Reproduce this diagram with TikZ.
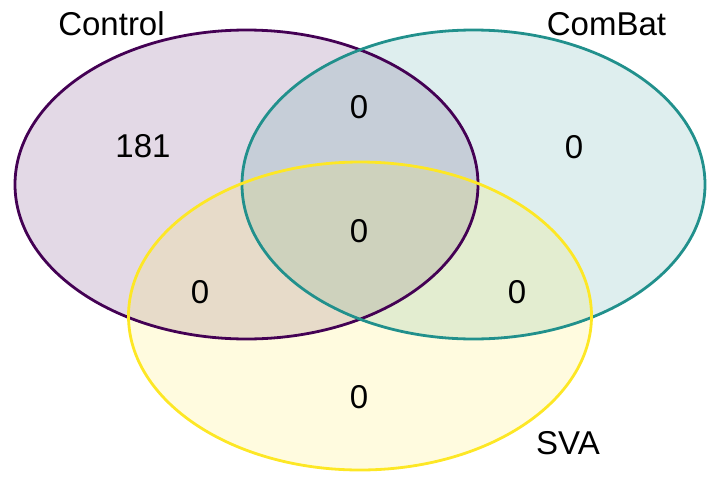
\documentclass[tikz,border=0pt]{standalone}
\usepackage{fontspec}
\setmainfont{Liberation Sans}
\definecolor{ctrlcol}{HTML}{440154}
\definecolor{combatcol}{HTML}{21908C}
\definecolor{svacol}{HTML}{FDE725}
\tikzset{
    vennfill/.style={fill opacity=0.15},
    vennline/.style={line width=2.8pt},
    count/.style={font=\fontsize{33}{40}\selectfont, inner sep=0pt}
}
\begin{document}
\begin{tikzpicture}[x=1pt, y=-1pt]
    \useasboundingbox (0,0) rectangle (720,480);
    % fills first, outlines on top
    \fill[vennfill, ctrlcol] (246.5,184.5) ellipse (231.5 and 154.5);
    \fill[vennfill, combatcol] (473.5,184.5) ellipse (231.5 and 154.5);
    \fill[vennfill, svacol] (360,316) ellipse (231.5 and 154);
    \draw[vennline, ctrlcol] (246.5,184.5) ellipse (231.5 and 154.5);
    \draw[vennline, combatcol] (473.5,184.5) ellipse (231.5 and 154.5);
    \draw[vennline, svacol] (360,316) ellipse (231.5 and 154);
    \node[count] (lctrl) at (111.5,24) {Control};
    \node[count] (lcombat) at (606.5,24.5) {ComBat};
    \node[count] (lsva) at (568,443) {SVA};
    \node[count] (nctrl) at (143,146) {181};
    \node[count] (ncc) at (359,107) {0};
    \node[count] (ncombat) at (574,147) {0};
    \node[count] (nall) at (359,231) {0};
    \node[count] (ncs) at (200,292) {0};
    \node[count] (nbs) at (517,292) {0};
    \node[count] (nsva) at (359,397) {0};
\end{tikzpicture}
\end{document}
